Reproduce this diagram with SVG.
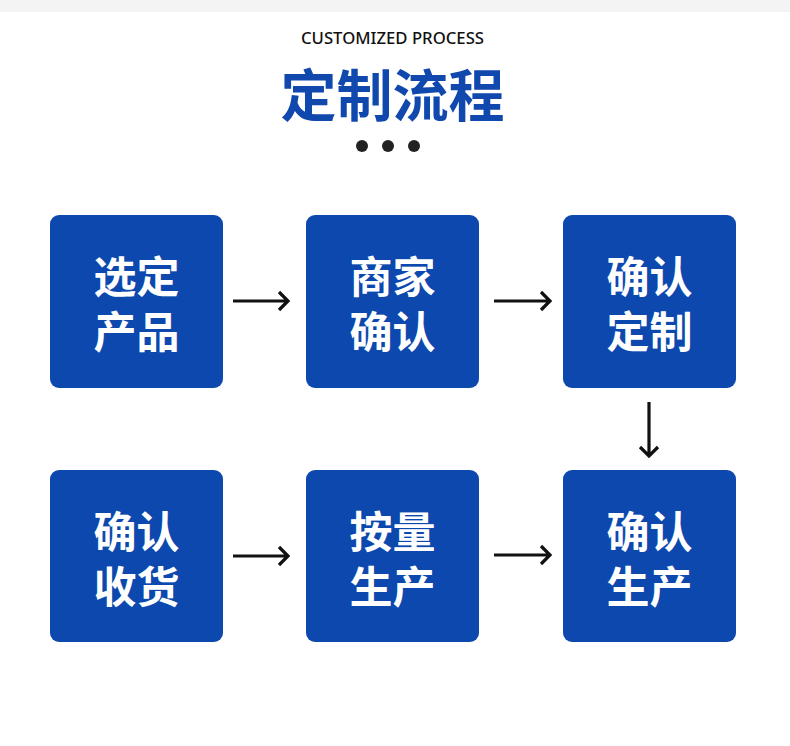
<svg xmlns="http://www.w3.org/2000/svg" width="790" height="746" viewBox="0 0 790 746">
<style>
.box{fill:#0c48ae}
.lbl{fill:#fff;font-family:"Noto Sans CJK SC","Noto Sans",sans-serif;font-weight:bold;font-size:43px;text-anchor:middle;dominant-baseline:central}
.arr{fill:none;stroke:#111;stroke-width:3.2;stroke-linecap:butt;stroke-linejoin:miter}
</style>
<rect x="0" y="0" width="790" height="746" fill="#fff"/>
<rect x="0" y="0" width="790" height="12" fill="#f4f4f4"/>
<text x="392.5" y="44" font-family="'Noto Sans','Liberation Sans',sans-serif" font-size="17" font-weight="500" fill="#111" text-anchor="middle" textLength="183" lengthAdjust="spacingAndGlyphs">CUSTOMIZED PROCESS</text>
<text x="392.5" y="91" font-family="'Noto Sans CJK SC',sans-serif" font-size="56" font-weight="bold" fill="#1148ad" text-anchor="middle" dominant-baseline="central">定制流程</text>
<g fill="#222">
<circle cx="362" cy="146" r="6"/>
<circle cx="388" cy="146" r="6"/>
<circle cx="414" cy="146" r="6"/>
</g>
<g id="n1"><rect class="box" x="50" y="215" width="173" height="173" rx="9"/><text class="lbl"><tspan x="136.5" y="274">选定</tspan><tspan x="136.5" y="329">产品</tspan></text></g>
<g id="n2"><rect class="box" x="306" y="215" width="173" height="173" rx="9"/><text class="lbl"><tspan x="392.5" y="274">商家</tspan><tspan x="392.5" y="329">确认</tspan></text></g>
<g id="n3"><rect class="box" x="563" y="215" width="173" height="173" rx="9"/><text class="lbl"><tspan x="649.5" y="274">确认</tspan><tspan x="649.5" y="329">定制</tspan></text></g>
<g id="n4"><rect class="box" x="50" y="470" width="173" height="172" rx="9"/><text class="lbl"><tspan x="136.5" y="529">确认</tspan><tspan x="136.5" y="584">收货</tspan></text></g>
<g id="n5"><rect class="box" x="306" y="470" width="173" height="172" rx="9"/><text class="lbl"><tspan x="392.5" y="529">按量</tspan><tspan x="392.5" y="584">生产</tspan></text></g>
<g id="n6"><rect class="box" x="563" y="470" width="173" height="172" rx="9"/><text class="lbl"><tspan x="649.5" y="529">确认</tspan><tspan x="649.5" y="584">生产</tspan></text></g>
<g id="connectors" class="arr">
<path d="M233 301H288M279 292L288 301L279 310"/>
<path d="M494 301H550M541 292L550 301L541 310"/>
<path d="M649 402V456M640 447L649 456L658 447"/>
<path d="M233 556H288M279 547L288 556L279 565"/>
<path d="M494 555H550M541 546L550 555L541 564"/>
</g>
</svg>
